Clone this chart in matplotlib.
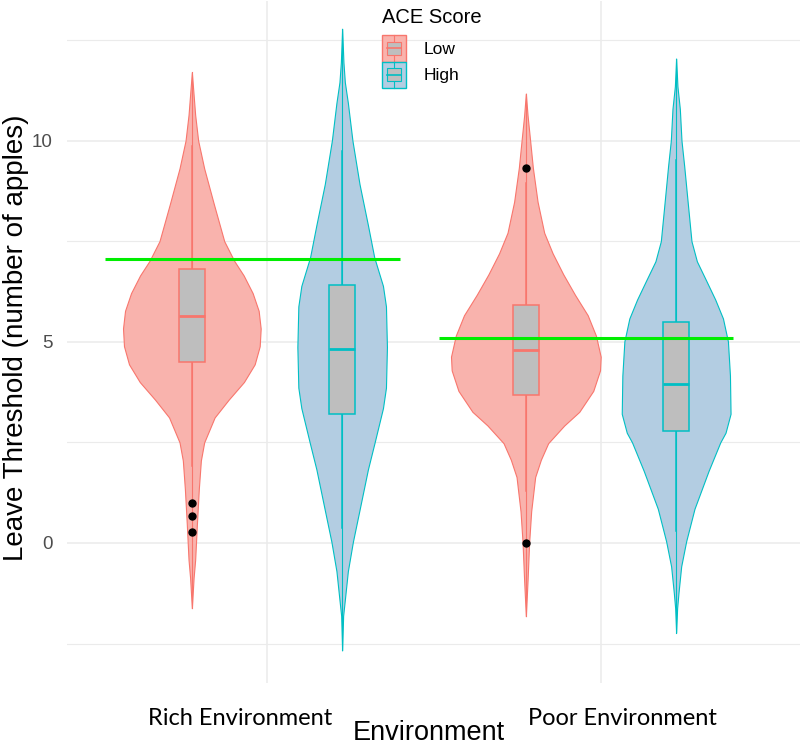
import numpy as np
import matplotlib
matplotlib.use("Agg")
import matplotlib.pyplot as plt
from matplotlib.patches import Rectangle, Patch
from matplotlib.lines import Line2D
from matplotlib.legend_handler import HandlerBase
from matplotlib.transforms import ScaledTranslation

# categories
environments = ["Rich Environment", "Poor Environment"]
ace_levels = ["Low", "High"]

# violin outlines: y value and relative density
rich_low_y = [11.70, 10.64, 10.0, 9.31, 8.42, 7.5, 7.01, 6.65, 6.21, 5.77, 5.33, 4.89,
              4.44, 4.0, 3.56, 3.12, 2.5, 2.05, 1.35, 0.46, -0.42, -0.87, -1.62]
rich_low_dens = [0, .044, .084, .164, .293, .431, .564, .689, .809, .889, .916, .903,
                 .836, .693, .489, .303, .164, .12, .093, .067, .044, .023, 0]

rich_high_y = [12.78, 11.95, 11.45, 10.94, 10.0, 8.92, 7.90, 7.10, 6.39, 5.88, 4.87,
               3.86, 3.35, 2.49, 1.83, 0.82, 0.03, -0.70, -1.41, -1.81, -2.67]
rich_high_dens = [0, .017, .036, .076, .137, .231, .343, .427, .543, .583, .596,
                  .583, .543, .431, .343, .231, .143, .076, .036, .013, 0]

poor_low_y = [11.17, 10.62, 10.0, 9.33, 8.48, 7.71, 7.20, 6.68, 6.17, 5.66, 5.15, 4.63,
              4.29, 3.78, 3.26, 2.92, 2.48, 2.07, 1.64, 0.79, 0.02, -0.92, -1.82]
poor_low_dens = [0, .023, .057, .093, .156, .244, .356, .497, .653, .823, .933, .996,
                 .987, .897, .711, .511, .297, .2, .124, .071, .044, .023, 0]

poor_high_y = [12.04, 11.35, 10.79, 10.0, 9.37, 8.42, 7.50, 7.0, 6.52, 6.05, 5.58, 5.01,
               4.16, 3.21, 2.74, 2.50, 1.79, 0.85, 0.04, -0.58, -1.24, -1.62, -2.23]
poor_high_dens = [0, .017, .049, .071, .107, .156, .204, .276, .4, .52, .623, .689,
                  .716, .724, .657, .587, .431, .244, .133, .067, .031, .013, 0]

# boxplot stats: lower whisker, q1, median, q3, upper whisker
rich_low_box = [1.92, 4.50, 5.64, 6.81, 9.87]
rich_high_box = [0.36, 3.20, 4.82, 6.41, 9.75]
poor_low_box = [1.30, 3.68, 4.80, 5.91, 8.95]
poor_high_box = [0.31, 2.78, 3.94, 5.48, 9.51]

rich_low_out = [0.99, 0.68, 0.27]
rich_high_out = []
poor_low_out = [9.33, 0.0]
poor_high_out = []

# green reference lines per environment
ref_y = [7.06, 5.09]
ref_start = [0.515, 1.515]
ref_end = [1.398, 2.395]

edge_cols = {"Low": "#F8766D", "High": "#00BFC4"}
fill_cols = {"Low": "#F9B3AD", "High": "#B3CDE2"}
box_fill = "#BEBEBE"

violins = {
    ("Rich Environment", "Low"): (rich_low_y, rich_low_dens, rich_low_box, rich_low_out),
    ("Rich Environment", "High"): (rich_high_y, rich_high_dens, rich_high_box, rich_high_out),
    ("Poor Environment", "Low"): (poor_low_y, poor_low_dens, poor_low_box, poor_low_out),
    ("Poor Environment", "High"): (poor_high_y, poor_high_dens, poor_high_box, poor_high_out),
}

fig = plt.figure(figsize=(8, 7.46), dpi=100)
ax = fig.add_axes([66.6 / 800, 63 / 746, 734.8 / 800, 682 / 746])

dodge = [-0.225, 0.225]
max_half = 0.225
box_w = 0.078

for gi, env in enumerate(environments):
    for li, lvl in enumerate(ace_levels):
        ys, dens, box, outs = violins[(env, lvl)]
        c = gi + 1 + dodge[li]
        hw = max_half * np.array(dens)
        ax.fill_betweenx(ys, c - hw, c + hw, facecolor=fill_cols[lvl],
                         edgecolor=edge_cols[lvl], lw=0.8, zorder=2)
        ax.plot([c, c], [min(ys), max(ys)], color=edge_cols[lvl], lw=0.8, zorder=3)
        lo, q1, med, q3, hi = box
        ax.plot([c, c], [lo, q1], color=edge_cols[lvl], lw=1.1, zorder=3)
        ax.plot([c, c], [q3, hi], color=edge_cols[lvl], lw=1.1, zorder=3)
        ax.add_patch(Rectangle((c - box_w / 2, q1), box_w, q3 - q1, facecolor=box_fill,
                               edgecolor=edge_cols[lvl], lw=1.1, zorder=4))
        ax.plot([c - box_w / 2, c + box_w / 2], [med, med], color=edge_cols[lvl],
                lw=2.0, zorder=5, solid_capstyle="butt")
        if outs:
            ax.plot([c] * len(outs), outs, "o", color="black", ms=5, zorder=6)

for y, x0, x1 in zip(ref_y, ref_start, ref_end):
    ax.plot([x0, x1], [y, y], color="#00EE00", lw=2.2, zorder=7, solid_capstyle="butt")

ax.set_xlim(0.4, 2.6)
ax.set_ylim(-3.48, 13.47)
ax.set_yticks([0, 5, 10])
ax.set_yticks([-2.5, 2.5, 7.5, 12.5], minor=True)
ax.set_xticks([1, 2], environments)
ax.grid(True, which="major", color="#EBEBEB", lw=1.1, zorder=0)
ax.grid(True, which="minor", axis="y", color="#EBEBEB", lw=0.8, zorder=0)
ax.set_axisbelow(True)
for s in ax.spines.values():
    s.set_visible(False)
ax.tick_params(axis="both", which="both", length=0)
ax.tick_params(axis="y", labelsize=13.5, labelcolor="#4D4D4D", pad=10)
ax.tick_params(axis="x", labelsize=17, labelcolor="black", pad=18)
for lab in ax.get_yticklabels():
    lab.set_fontfamily("Liberation Sans")
for lab, dx in zip(ax.get_xticklabels(), [-27, 21]):
    lab.set_fontfamily("Lato")
    lab.set_transform(lab.get_transform() + ScaledTranslation(dx / 100, 0, fig.dpi_scale_trans))

ax.set_xlabel("Environment", fontsize=19.5, family="Liberation Sans", va="baseline")
ax.xaxis.set_label_coords((429 - 66.6) / 734.8, (683 - 740) / 682)
ax.set_ylabel("Leave Threshold (number of apples)", fontsize=20, family="Liberation Sans",
              va="center")
ax.yaxis.set_label_coords((16 - 66.6) / 734.8, (683 - 338) / 682)


class BoxViolinKey(HandlerBase):
    def create_artists(self, legend, orig_handle, xdescent, ydescent, width, height,
                       fontsize, trans):
        x0, y0 = -xdescent, -ydescent
        edge = orig_handle.get_edgecolor()
        outer = Rectangle((x0, y0), width, height, facecolor=orig_handle.get_facecolor(),
                          edgecolor=edge, lw=1.0, transform=trans)
        whisk = Line2D([x0 + width / 2] * 2, [y0, y0 + height], color=edge, lw=0.8,
                       transform=trans)
        inner = Rectangle((x0 + 0.2 * width, y0 + 0.25 * height), 0.6 * width, 0.5 * height,
                          facecolor=box_fill, edgecolor=edge, lw=0.8, transform=trans)
        med = Line2D([x0 + 0.2 * width, x0 + 0.8 * width], [y0 + height / 2] * 2,
                     color=edge, lw=1.2, transform=trans)
        return [outer, whisk, inner, med]


handles = [Patch(facecolor=fill_cols[l], edgecolor=edge_cols[l]) for l in ace_levels]
leg = fig.legend(handles, ace_levels, title="ACE Score", loc="upper left",
                 bbox_to_anchor=(382 / 800, 1 - 8 / 746), frameon=False,
                 handler_map={Patch: BoxViolinKey()}, prop={"family": "Liberation Sans", "size": 12.5},
                 title_fontproperties={"family": "Liberation Sans", "size": 14.5},
                 handlelength=1.38, handleheight=1.95, handletextpad=1.0, labelspacing=0.0,
                 borderpad=0, borderaxespad=0, alignment="left")
leg._legend_box.sep = 6

fig.savefig("out.png", dpi=100)
